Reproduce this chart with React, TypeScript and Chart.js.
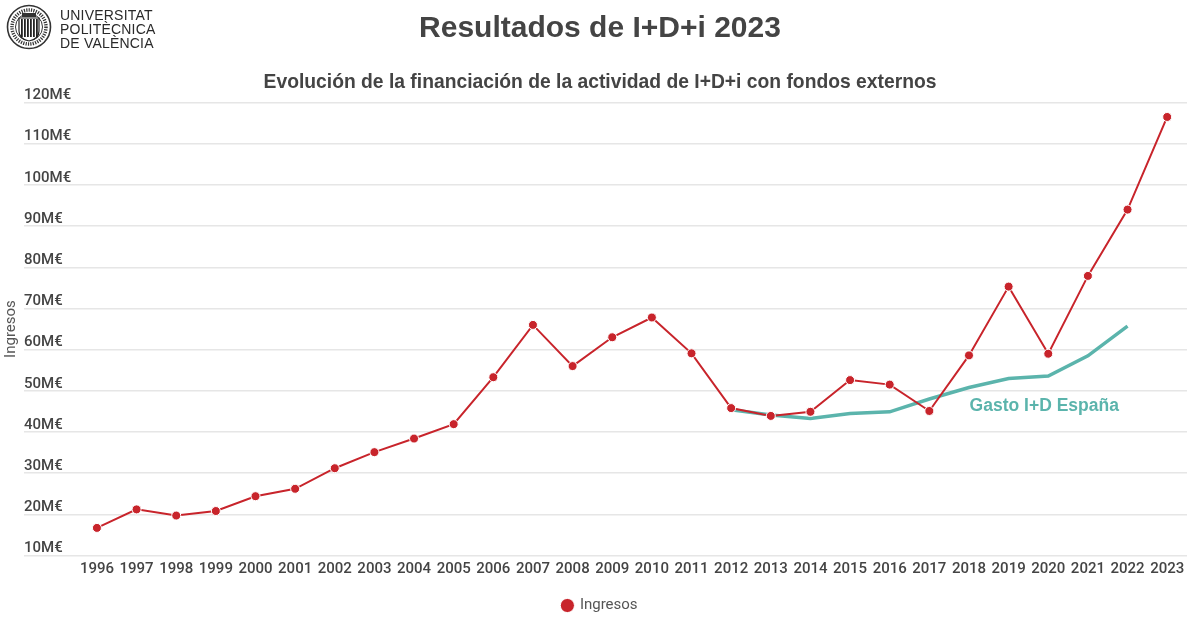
import React, { useEffect, useRef } from "react";
import { Chart, registerables, type ChartConfiguration, type Plugin } from "chart.js";

Chart.register(...registerables);

const years = [
  1996, 1997, 1998, 1999, 2000, 2001, 2002, 2003, 2004, 2005, 2006, 2007, 2008, 2009,
  2010, 2011, 2012, 2013, 2014, 2015, 2016, 2017, 2018, 2019, 2020, 2021, 2022, 2023,
];
// millions of euros
const ingresos = [
  16.7, 21.2, 19.7, 20.8, 24.4, 26.2, 31.2, 35.1, 38.4, 41.9, 53.3, 66.0, 56.0, 63.0,
  67.8, 59.1, 45.8, 43.9, 44.9, 52.6, 51.5, 45.1, 58.6, 75.3, 59.0, 77.9, 94.0, 116.5,
];
const gastoYears = [2012, 2013, 2014, 2015, 2016, 2017, 2018, 2019, 2020, 2021, 2022];
const gastoEspana = [45.4, 44.1, 43.3, 44.5, 44.9, 48.0, 50.8, 53.0, 53.6, 58.5, 65.7];
const yTicks = [10, 20, 30, 40, 50, 60, 70, 80, 90, 100, 110, 120];

const RED = "#c8242b";
const TEAL = "#5bb4ac";
const TEXT = "#444444";

// label that sits next to the Spanish R&D spending line
const gastoLabel: Plugin<"line"> = {
  id: "gastoLabel",
  afterDatasetsDraw(chart) {
    const { ctx, scales } = chart;
    const x = scales.x.getPixelForValue(gastoYears[gastoYears.length - 3]) - 4;
    const y = scales.y.getPixelForValue(46.3);
    ctx.save();
    ctx.font = "bold 17.5px 'Liberation Sans', Arial, sans-serif";
    ctx.fillStyle = TEAL;
    ctx.textAlign = "center";
    ctx.textBaseline = "middle";
    ctx.fillText("Gasto I+D España", x, y);
    ctx.restore();
  },
};

function Logo() {
  const bars = [-8, -5, -2, 1, 4, 7];
  return (
    <div style={{ position: "absolute", left: 6, top: 4, display: "flex", alignItems: "center" }}>
      <svg width="46" height="46" viewBox="-23 -23 46 46">
        <circle r="21.5" fill="none" stroke="#333" strokeWidth="1.6" />
        <circle r="17" fill="none" stroke="#333" strokeWidth="3.5" strokeDasharray="1.2 1.2" />
        <circle r="13.5" fill="none" stroke="#333" strokeWidth="1" />
        <path d="M-10,-9 L10,-9 L10,4 Q10,12 0,14 Q-10,12 -10,4 Z" fill="#fff" stroke="#222" strokeWidth="1.2" />
        {bars.map((b) => (
          <rect key={b} x={b} y={-8} width={1.8} height={18} fill="#222" />
        ))}
        <rect x={-7} y={-14} width={14} height={4} fill="#333" />
      </svg>
      <div
        style={{
          marginLeft: 8,
          marginTop: 3,
          fontFamily: "'Liberation Sans', Arial, sans-serif",
          fontSize: 14,
          lineHeight: "14px",
          letterSpacing: 0.2,
          color: "#2a2a2a",
        }}
      >
        <div>UNIVERSITAT</div>
        <div>POLITÈCNICA</div>
        <div>DE VALÈNCIA</div>
      </div>
    </div>
  );
}

export default function App() {
  const canvasRef = useRef<HTMLCanvasElement | null>(null);
  const chartRef = useRef<Chart<"line"> | null>(null);

  useEffect(() => {
    if (!canvasRef.current) return;

    const config: ChartConfiguration<"line"> = {
      type: "line",
      data: {
        datasets: [
          {
            label: "Ingresos",
            data: years.map((yr, i) => ({ x: yr, y: ingresos[i] })),
            borderColor: RED,
            backgroundColor: RED,
            borderWidth: 2,
            pointRadius: 4.5,
            pointBackgroundColor: RED,
            pointBorderColor: "#ffffff",
            pointBorderWidth: 1,
            tension: 0,
            order: 1,
          },
          {
            label: "Gasto I+D España",
            data: gastoYears.map((yr, i) => ({ x: yr, y: gastoEspana[i] })),
            borderColor: TEAL,
            backgroundColor: TEAL,
            borderWidth: 3.5,
            pointRadius: 0,
            tension: 0,
            order: 2,
          },
        ],
      },
      options: {
        responsive: true,
        maintainAspectRatio: false,
        animation: false,
        layout: { padding: { left: 0, right: 0, top: 0, bottom: -6 } },
        plugins: {
          title: {
            display: true,
            text: "Resultados de I+D+i 2023",
            color: TEXT,
            font: { family: "'Liberation Sans', Arial, sans-serif", size: 30, weight: "bold" },
            padding: { top: 11, bottom: 0 },
          },
          subtitle: {
            display: true,
            text: "Evolución de la financiación de la actividad de I+D+i con fondos externos",
            color: TEXT,
            font: { family: "'Liberation Sans', Arial, sans-serif", size: 19.3, weight: "bold" },
            padding: { top: 24.4, bottom: 8 },
          },
          legend: {
            display: true,
            position: "bottom",
            labels: {
              filter: (item) => item.datasetIndex === 0,
              usePointStyle: true,
              pointStyle: "circle",
              boxWidth: 10,
              boxHeight: 10,
              padding: 5,
              color: "#555555",
              font: { family: "Roboto", size: 15 },
            },
          },
          tooltip: { enabled: false },
        },
        scales: {
          x: {
            type: "linear",
            min: years[0] - 1.84,
            max: years[years.length - 1] + 0.5,
            afterBuildTicks: (scale) => {
              scale.ticks = years.map((v) => ({ value: v }));
            },
            afterFit: (scale) => {
              scale.height += 9.5;
            },
            grid: { display: false, drawTicks: false },
            border: { display: false },
            ticks: {
              padding: 5,
              autoSkip: false,
              maxRotation: 0,
              color: TEXT,
              font: { family: "Roboto", size: 15, weight: 500 },
              callback: (v) => String(v),
            },
          },
          y: {
            min: 10,
            max: 120,
            afterBuildTicks: (scale) => {
              scale.ticks = yTicks.map((v) => ({ value: v }));
            },
            grid: { color: "#e6e6e6", lineWidth: 1.5, drawTicks: false },
            border: { display: false },
            title: {
              display: true,
              text: "Ingresos",
              color: "#555555",
              font: { family: "Roboto", size: 15 },
              padding: { top: 2, bottom: 4 },
            },
            ticks: {
              mirror: true,
              padding: 0,
              labelOffset: -7,
              color: TEXT,
              font: { family: "Roboto", size: 15, weight: 500 },
              callback: (v) => `${v}M€`,
            },
          },
          // empty right-hand strip so the titles stay centred on the page
          yRight: {
            position: "right",
            display: true,
            grid: { display: false, drawTicks: false },
            border: { display: false },
            ticks: { display: false },
            afterFit: (scale) => {
              scale.width = 13;
            },
          },
        },
      },
      plugins: [gastoLabel],
    };

    chartRef.current = new Chart(canvasRef.current, config);

    return () => {
      chartRef.current?.destroy();
      chartRef.current = null;
    };
  }, []);

  return (
    <div
      style={{
        position: "fixed",
        left: 0,
        top: 0,
        width: 1200,
        height: 617,
        background: "#ffffff",
      }}
    >
      <canvas ref={canvasRef} aria-label="Resultados de I+D+i 2023" />
      <Logo />
    </div>
  );
}
